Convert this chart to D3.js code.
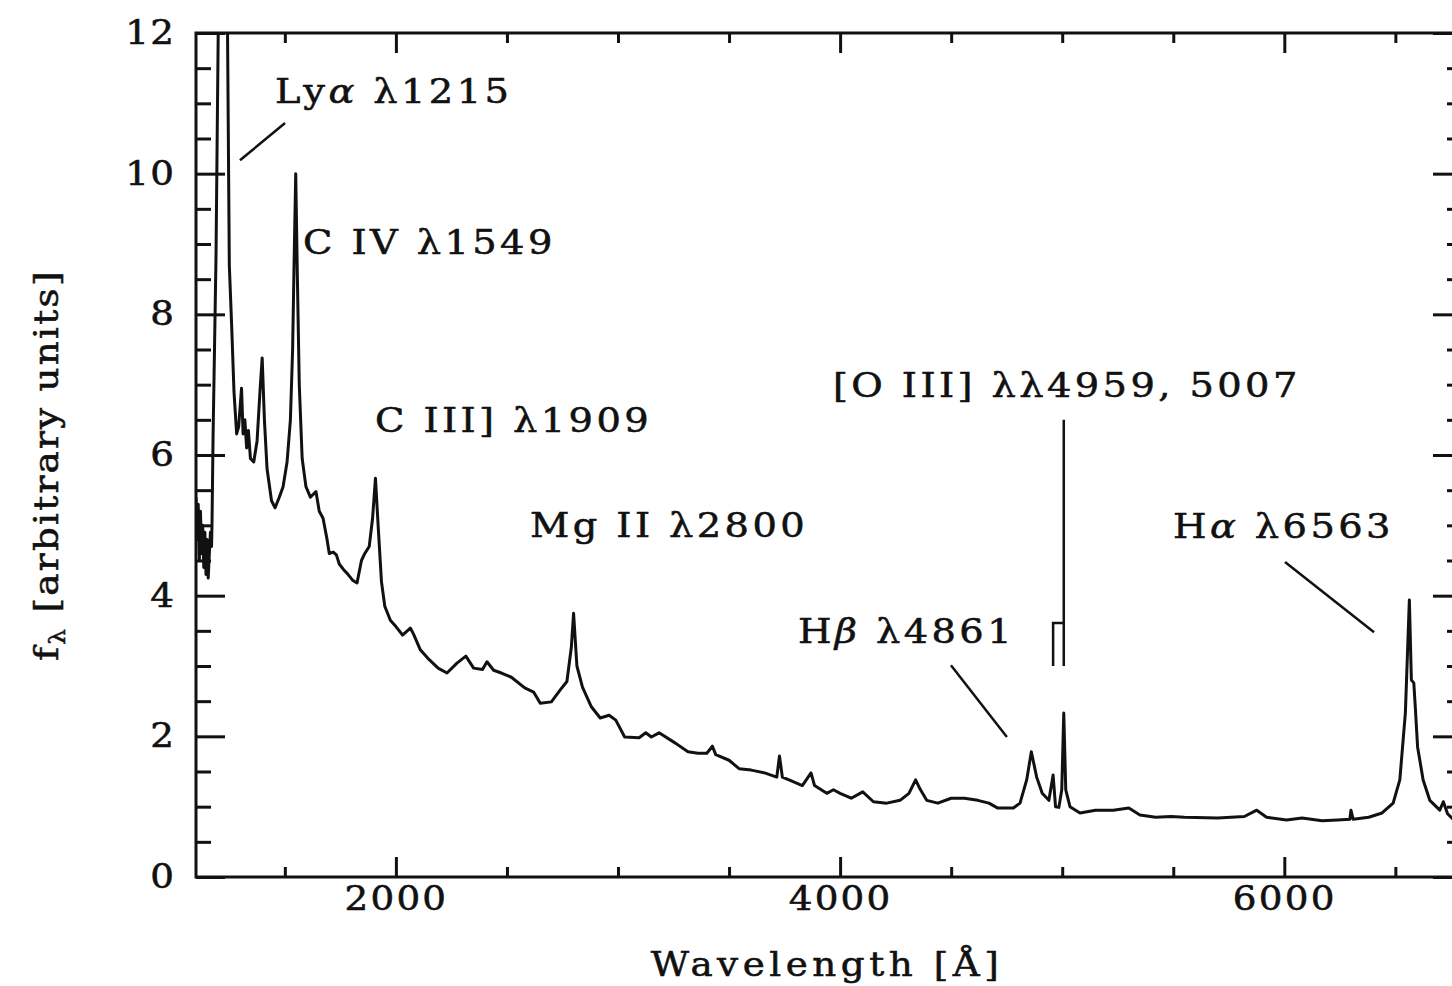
<!DOCTYPE html>
<html>
<head>
<meta charset="utf-8">
<script src="https://cdn.jsdelivr.net/npm/d3@7"></script>
<style>
  html, body { margin: 0; padding: 0; background: #fff; }
  svg { display: block; }
  text { font-family: "DejaVu Serif", serif; fill: #111; stroke: #111; stroke-width: 0.55px; }
</style>
</head>
<body>
<svg id="chart" width="1452" height="986"></svg>
<script>
// Composite quasar spectrum: rest wavelength (Å) and flux density f_λ (arbitrary units)
const wavelength = [
  1100, 1105, 1110, 1115, 1120, 1125, 1130, 1135, 1140, 1145, 1150, 1155, 1160, 1165, 1170,
  1172, 1177, 1190, 1200, 1216, 1232, 1242, 1250, 1261, 1271, 1283,
  1292, 1305, 1312, 1320, 1328, 1336, 1345, 1360, 1375, 1388, 1398, 1408, 1420, 1440, 1456,
  1475, 1492, 1510, 1525, 1535, 1542, 1549, 1556, 1565, 1578, 1595, 1615, 1640, 1655, 1672,
  1690, 1700, 1718, 1732, 1745, 1762, 1785, 1805, 1825, 1845, 1860, 1880, 1895, 1908, 1920,
  1935, 1950, 1975, 2000, 2030, 2065, 2080, 2110, 2150, 2190, 2230, 2275, 2315, 2350, 2390,
  2410, 2440, 2475, 2520, 2580, 2620, 2650, 2700, 2740, 2770, 2790, 2800, 2815, 2840, 2880,
  2920, 2960, 2990, 3030, 3095, 3125, 3150, 3185, 3260, 3315, 3360, 3400, 3425, 3440, 3500,
  3545, 3600, 3660, 3715, 3727, 3740, 3770, 3830, 3869, 3885, 3940, 3970, 4000, 4050, 4102,
  4150, 4210, 4270, 4310, 4340, 4360, 4390, 4440, 4500, 4560, 4620, 4670, 4710, 4780, 4810,
  4840, 4861, 4885, 4910, 4940, 4959, 4970, 4985, 4998, 5007, 5016, 5035, 5080, 5150, 5230,
  5300, 5350, 5420, 5490, 5550, 5700, 5820, 5876, 5920, 6010, 6080, 6170, 6240, 6295, 6300,
  6310, 6380, 6440, 6490, 6520, 6545, 6563, 6572, 6583, 6590, 6600, 6625, 6655, 6700, 6716,
  6735, 6760, 6800
];
const flux = [
  5.4, 4.8, 5.3, 4.5, 5.2, 4.6, 5.0, 4.4, 4.9, 4.3, 4.8, 4.25, 4.6, 4.9, 4.7,
  5.0, 6.3, 8.8, 12.0, 15.0, 14.0, 12.0, 8.7, 7.8, 6.9, 6.3,
  6.4, 6.95, 6.3, 6.5, 6.1, 6.35, 5.95, 5.9, 6.2, 6.9, 7.38, 6.5, 5.8, 5.35, 5.25,
  5.4, 5.55, 5.9, 6.5, 7.5, 8.8, 10.0, 8.6, 7.0, 5.95, 5.55, 5.4, 5.48, 5.2, 5.1,
  4.8, 4.6, 4.62, 4.58, 4.45, 4.38, 4.3, 4.22, 4.18, 4.5, 4.6, 4.7, 5.1, 5.67, 5.0,
  4.2, 3.85, 3.65, 3.56, 3.44, 3.54, 3.45, 3.23, 3.09, 2.97, 2.9, 3.04, 3.14, 2.97, 2.95,
  3.06, 2.94, 2.9, 2.84, 2.69, 2.63, 2.47, 2.49, 2.66, 2.78, 3.27, 3.75, 3.0, 2.7, 2.42,
  2.26, 2.3, 2.23, 1.99, 1.98, 2.05, 1.99, 2.05, 1.9, 1.78, 1.76, 1.76, 1.86, 1.74, 1.66,
  1.54, 1.52, 1.48, 1.42, 1.72, 1.42, 1.38, 1.3, 1.48, 1.3, 1.19, 1.24, 1.19, 1.12, 1.21,
  1.07, 1.05, 1.09, 1.19, 1.38, 1.25, 1.09, 1.05, 1.12, 1.12, 1.09, 1.05, 0.98, 0.98, 1.05,
  1.38, 1.78, 1.42, 1.19, 1.09, 1.45, 1.0, 0.99, 1.24, 2.33, 1.24, 1.0, 0.91, 0.95, 0.95,
  0.98, 0.88, 0.85, 0.86, 0.85, 0.84, 0.86, 0.95, 0.85, 0.81, 0.84, 0.8, 0.81, 0.82, 0.95,
  0.82, 0.85, 0.91, 1.05, 1.38, 2.33, 3.94, 2.8, 2.76, 2.4, 1.85, 1.38, 1.09, 0.95, 1.07,
  0.9, 0.82, 0.8
];

// Axis ticks
const xMajorTicks = [2000, 4000, 6000];
const xMinorTicks = [1500, 2500, 3000, 3500, 4500, 5000, 5500, 6500];
const yMajorTicks = [0, 2, 4, 6, 8, 10, 12];
const yMinorTicks = d3.range(0.5, 12, 0.5).filter(v => v % 2 !== 0);

// Emission-line labels, their anchor points (λ, f) and leader lines
const lineLabels = ["Lyα λ1215", "C IV λ1549", "C III] λ1909", "Mg II λ2800",
                    "[O III] λλ4959, 5007", "Hβ λ4861", "Hα λ6563"];
const labelLambda = [1456, 1582, 1906, 2604, 3968, 3810, 5499];
const labelFlux   = [11.0, 8.86, 6.33, 4.83, 6.83, 3.33, 4.82];
const leaderFrom  = [[1298, 10.19], [4499, 3.01], [6003, 4.48]];
const leaderTo    = [[1501, 10.72], [4751, 1.99], [6404, 3.48]];
// [O III] doublet marker: line wavelengths and heights
const oiiiLines = [4959, 5007];
const oiiiTop = 6.5, oiiiJoin = 3.61, oiiiBase = 3.0;

const xLabel = "Wavelength [Å]";
const yLabel = "[arbitrary units]";

const svg = d3.select("#chart");
const margin = { left: 196, right: 1462, top: 33, bottom: 877 };

const x = d3.scaleLinear().domain([1100, 6800]).range([margin.left, margin.right]);
const y = d3.scaleLinear().domain([0, 12]).range([margin.bottom, margin.top]);

const ink = "#111";
const SX = 1.13; // horizontal stretch for the wide roman lettering

function widen(sel) {
  sel.attr("transform", function () {
    const tx = +this.getAttribute("x") || 0;
    return `translate(${tx},0) scale(${SX},1) translate(${-tx},0)`;
  });
}

// Clip region for the spectrum
svg.append("defs").append("clipPath").attr("id", "plotArea")
  .append("rect")
  .attr("x", margin.left).attr("y", margin.top)
  .attr("width", margin.right - margin.left).attr("height", margin.bottom - margin.top);

// Spectrum
const pts = wavelength.map((w, i) => [w, flux[i]]);
svg.append("path")
  .datum(pts)
  .attr("clip-path", "url(#plotArea)")
  .attr("fill", "none")
  .attr("stroke", ink)
  .attr("stroke-width", 3)
  .attr("stroke-linejoin", "round")
  .attr("d", d3.line().x(d => x(d[0])).y(d => y(d[1])));

// Frame
svg.append("rect")
  .attr("x", margin.left).attr("y", margin.top)
  .attr("width", margin.right - margin.left).attr("height", margin.bottom - margin.top)
  .attr("fill", "none").attr("stroke", ink).attr("stroke-width", 3);

function styleAxis(g) {
  g.select(".domain").remove();
  g.selectAll(".tick line").attr("stroke", ink).attr("stroke-width", 3);
  g.selectAll("text").attr("font-size", 33).attr("fill", ink).attr("letter-spacing", 2);
}

// Bottom axis
const gB = svg.append("g").attr("transform", `translate(0,${margin.bottom})`)
  .call(d3.axisBottom(x).tickValues(xMajorTicks).tickSize(-20).tickPadding(10).tickFormat(d3.format("d")));
styleAxis(gB);
gB.selectAll("text").call(widen);
svg.append("g").attr("transform", `translate(0,${margin.bottom})`)
  .call(d3.axisBottom(x).tickValues(xMinorTicks).tickSize(-10).tickFormat(""))
  .call(styleAxis);
// Top axis
svg.append("g").attr("transform", `translate(0,${margin.top})`)
  .call(d3.axisTop(x).tickValues(xMajorTicks).tickSize(-20).tickFormat(""))
  .call(styleAxis);
svg.append("g").attr("transform", `translate(0,${margin.top})`)
  .call(d3.axisTop(x).tickValues(xMinorTicks).tickSize(-10).tickFormat(""))
  .call(styleAxis);
// Left axis
const gL = svg.append("g").attr("transform", `translate(${margin.left},0)`)
  .call(d3.axisLeft(y).tickValues(yMajorTicks).tickSize(-29).tickPadding(21).tickFormat(d3.format("d")));
styleAxis(gL);
gL.selectAll("text").attr("letter-spacing", 1).call(widen);
svg.append("g").attr("transform", `translate(${margin.left},0)`)
  .call(d3.axisLeft(y).tickValues(yMinorTicks).tickSize(-15).tickFormat(""))
  .call(styleAxis);
// Right axis
svg.append("g").attr("transform", `translate(${margin.right},0)`)
  .call(d3.axisRight(y).tickValues(yMajorTicks).tickSize(-29).tickFormat(""))
  .call(styleAxis);
svg.append("g").attr("transform", `translate(${margin.right},0)`)
  .call(d3.axisRight(y).tickValues(yMinorTicks).tickSize(-15).tickFormat(""))
  .call(styleAxis);

// Axis titles
svg.append("text")
  .attr("x", (x(1100) + x(6800)) / 2 - 2).attr("y", 976)
  .attr("text-anchor", "middle")
  .attr("font-size", 33).attr("letter-spacing", 4)
  .text(xLabel)
  .call(widen);

const yt = svg.append("text")
  .attr("transform", `translate(58,465) rotate(-90) scale(${SX},1)`)
  .attr("text-anchor", "middle")
  .attr("font-size", 33).attr("letter-spacing", 2);
yt.append("tspan").text("f");
yt.append("tspan").attr("font-size", 22).attr("dy", 7).text("λ");
yt.append("tspan").attr("dy", -7).text(" " + yLabel);

// Line labels; Greek letters α and β set in italic
lineLabels.forEach((lab, i) => {
  const t = svg.append("text")
    .attr("x", x(labelLambda[i])).attr("y", y(labelFlux[i]))
    .attr("font-size", 34).attr("letter-spacing", 3)
    .attr("xml:space", "preserve");
  lab.split(/([αβ])/).filter(s => s.length).forEach(part => {
    const ts = t.append("tspan").text(part.replace(/ /g, "\u00a0"));
    if (part === "α" || part === "β") ts.attr("font-style", "italic");
  });
  t.call(widen);
});

// Leader lines
leaderFrom.forEach((p, i) => {
  svg.append("line")
    .attr("x1", x(p[0])).attr("y1", y(p[1]))
    .attr("x2", x(leaderTo[i][0])).attr("y2", y(leaderTo[i][1]))
    .attr("stroke", ink).attr("stroke-width", 2.5);
});

// [O III] doublet marker
const oiiiPath = d3.path();
oiiiPath.moveTo(x(oiiiLines[1]), y(oiiiTop));
oiiiPath.lineTo(x(oiiiLines[1]), y(oiiiBase));
oiiiPath.moveTo(x(oiiiLines[0]), y(oiiiBase));
oiiiPath.lineTo(x(oiiiLines[0]), y(oiiiJoin));
oiiiPath.lineTo(x(oiiiLines[1]), y(oiiiJoin));
svg.append("path").attr("d", oiiiPath.toString())
  .attr("fill", "none").attr("stroke", ink).attr("stroke-width", 2.5);
</script>
</body>
</html>
